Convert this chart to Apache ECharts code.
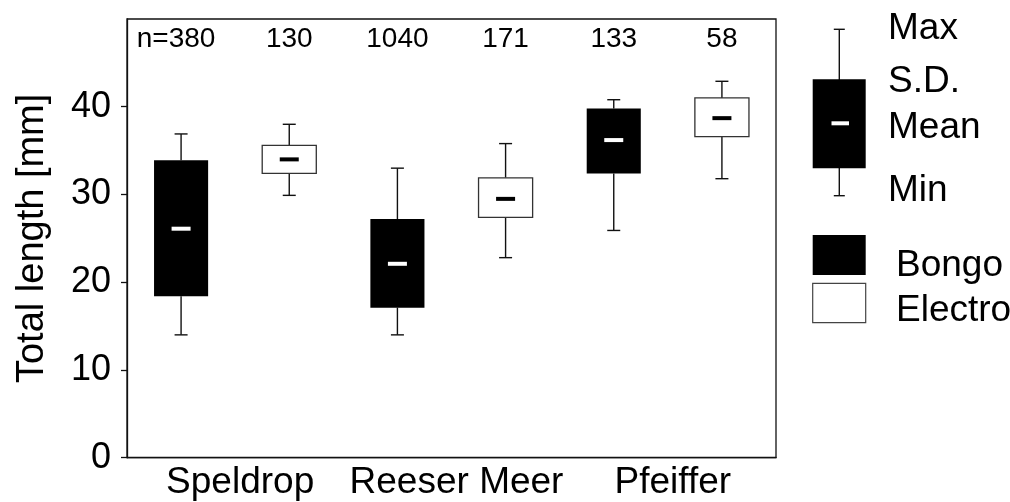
<!DOCTYPE html>
<html>
<head>
<meta charset="utf-8">
<script src="https://cdn.jsdelivr.net/npm/echarts@6/dist/echarts.min.js"></script>
<style>html,body{margin:0;padding:0;background:#fff;}#c{width:1010px;height:502px;}</style>
</head>
<body>
<div id="c"></div>
<script>
const categories = ['Speldrop', 'Reeser Meer', 'Pfeiffer'];
const bongoMin    = [14.0, 14.0, 25.9];
const bongoSdLow  = [18.4, 17.1, 32.4];
const bongoMean   = [26.1, 22.1, 36.2];
const bongoSdHigh = [33.9, 27.2, 39.8];
const bongoMax    = [36.9, 33.0, 40.8];
const bongoN      = [380, 1040, 133];
const electroMin    = [29.9, 22.8, 31.8];
const electroSdLow  = [32.4, 27.4, 36.6];
const electroMean   = [34.0, 29.5, 38.7];
const electroSdHigh = [35.6, 31.9, 41.0];
const electroMax    = [38.0, 35.8, 42.9];
const electroN      = [130, 171, 58];
const yTicks = [0, 10, 20, 30, 40];

const FONT = 'Liberation Sans, Arial, sans-serif';
const INK = '#111';

function rows(mins, lows, means, highs, maxs, ns) {
  return categories.map((c, i) => [i, mins[i], lows[i], means[i], highs[i], maxs[i], ns[i]]);
}

function makeRender(side, fill, stroke, dashColor) {
  return function (params, api) {
    const idx = api.value(0);
    const bw = api.size([1, 0])[0];
    const w = bw / 4;
    const cx = api.coord([idx, 0])[0] + side * bw / 4;
    const yMin = api.coord([idx, api.value(1)])[1];
    const yLo = api.coord([idx, api.value(2)])[1];
    const yMean = api.coord([idx, api.value(3)])[1];
    const yHi = api.coord([idx, api.value(4)])[1];
    const yMax = api.coord([idx, api.value(5)])[1];
    const yTop = api.coord([idx, 50])[1];
    const n = api.value(6);
    const cap = 6.5;
    const lw = 1.4;
    const label = (params.seriesIndex === 0 && idx === 0) ? 'n=' + n : String(n);
    return {
      type: 'group',
      children: [
        { type: 'line', shape: { x1: cx, y1: yHi, x2: cx, y2: yMax }, style: { stroke: INK, lineWidth: lw } },
        { type: 'line', shape: { x1: cx - cap, y1: yMax, x2: cx + cap, y2: yMax }, style: { stroke: INK, lineWidth: lw } },
        { type: 'line', shape: { x1: cx, y1: yLo, x2: cx, y2: yMin }, style: { stroke: INK, lineWidth: lw } },
        { type: 'line', shape: { x1: cx - cap, y1: yMin, x2: cx + cap, y2: yMin }, style: { stroke: INK, lineWidth: lw } },
        { type: 'rect', shape: { x: cx - w / 2, y: yHi, width: w, height: yLo - yHi }, style: { fill: fill, stroke: stroke, lineWidth: stroke ? 1.3 : 0 } },
        { type: 'rect', shape: { x: cx - 9.5, y: yMean - 2, width: 19, height: 4 }, style: { fill: dashColor } },
        { type: 'text', x: cx - (label.length > 4 ? 5 : 0), y: yTop + 20, style: { text: label, fill: '#000', font: '28px ' + FONT, align: 'center', verticalAlign: 'middle' } }
      ]
    };
  };
}

const chart = echarts.init(document.getElementById('c'), null, { renderer: 'canvas' });

const lgX = 839.3;
const LF = 37;
const legendText = (t, x, baseline) => ({ type: 'text', x: x, y: baseline - 0.35 * LF + 3.5, style: { text: t, fill: '#000', font: LF + 'px ' + FONT, verticalAlign: 'middle', align: 'left' } });

chart.setOption({
  animation: false,
  backgroundColor: '#fff',
  grid: { left: 127, top: 19, right: 234, bottom: 44.3, show: true, borderColor: INK, borderWidth: 1.3, backgroundColor: 'transparent' },
  xAxis: {
    type: 'category',
    data: categories,
    boundaryGap: true,
    axisLine: { show: true, lineStyle: { color: INK, width: 1.3 } },
    axisTick: { show: false },
    axisLabel: { color: '#000', fontSize: 37, fontFamily: FONT, margin: 7, interval: 0, padding: [0, 0, 0, 10] },
    splitLine: { show: false }
  },
  yAxis: {
    type: 'value',
    min: 0, max: 50, interval: 10,
    name: 'Total length [mm]',
    nameLocation: 'middle',
    nameGap: 75,
    nameTextStyle: { color: '#000', fontSize: 38, fontFamily: FONT },
    axisLine: { show: true, lineStyle: { color: INK, width: 1.3 } },
    axisTick: { show: true, length: 6, lineStyle: { color: INK, width: 1.3 }, customValues: yTicks },
    axisLabel: { color: '#000', fontSize: 36, fontFamily: FONT, margin: 16, customValues: yTicks },
    splitLine: { show: false }
  },
  series: [
    { name: 'Bongo', type: 'custom', renderItem: makeRender(-1, '#000', null, '#fff'), encode: { x: 0, y: [1, 2, 3, 4, 5] }, data: rows(bongoMin, bongoSdLow, bongoMean, bongoSdHigh, bongoMax, bongoN), clip: false },
    { name: 'Electro', type: 'custom', renderItem: makeRender(1, '#fff', '#333', '#000'), encode: { x: 0, y: [1, 2, 3, 4, 5] }, data: rows(electroMin, electroSdLow, electroMean, electroSdHigh, electroMax, electroN), clip: false }
  ],
  graphic: [
    { type: 'line', shape: { x1: lgX, y1: 29.3, x2: lgX, y2: 195.7 }, style: { stroke: INK, lineWidth: 1.4 } },
    { type: 'line', shape: { x1: lgX - 5.5, y1: 29.3, x2: lgX + 5.5, y2: 29.3 }, style: { stroke: INK, lineWidth: 1.4 } },
    { type: 'line', shape: { x1: lgX - 5.5, y1: 195.7, x2: lgX + 5.5, y2: 195.7 }, style: { stroke: INK, lineWidth: 1.4 } },
    { type: 'rect', shape: { x: 812.7, y: 79.3, width: 53, height: 89 }, style: { fill: '#000' } },
    { type: 'rect', shape: { x: 831.5, y: 121.3, width: 17.5, height: 4 }, style: { fill: '#fff' } },
    { type: 'rect', shape: { x: 812.7, y: 235, width: 53, height: 40 }, style: { fill: '#000' } },
    { type: 'rect', shape: { x: 812.7, y: 283.3, width: 53, height: 39.4 }, style: { fill: '#fff', stroke: '#444', lineWidth: 1.2 } },
    legendText('Max', 888, 38),
    legendText('S.D.', 888, 91),
    legendText('Mean', 888, 137),
    legendText('Min', 888, 200),
    legendText('Bongo', 896, 275),
    legendText('Electro', 896, 320)
  ]
});
</script>
</body>
</html>
